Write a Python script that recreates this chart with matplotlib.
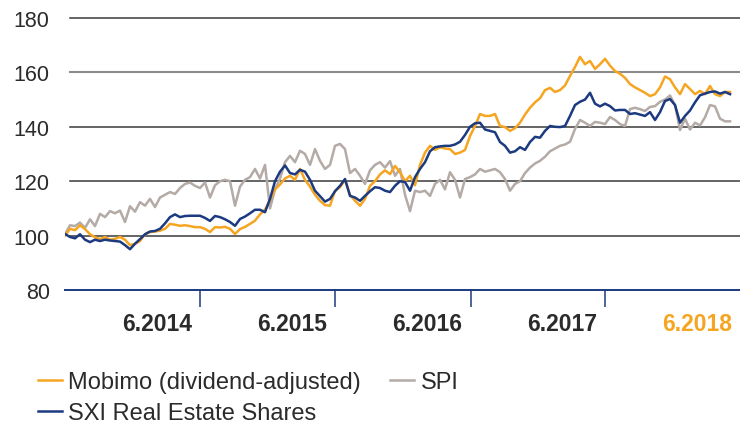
import matplotlib
matplotlib.use('Agg')
import matplotlib.pyplot as plt
from matplotlib.lines import Line2D
import pandas as pd

plt.rcParams['font.family'] = ['Liberation Sans', 'DejaVu Sans']

# ---------------- data ----------------
start_date = '2013-12-31'
end_date = '2018-12-04'

mobimo = [
    100, 102.5, 102, 103.8, 102.4, 100.5, 99.4, 98.7, 99.5, 98.5,
    98.8, 99.5, 98.5, 96.5, 97, 98, 100.5, 101.3, 101.5, 101.8,
    102.5, 104.3, 104, 103.6, 103.8, 103.5, 103.1, 103.1, 102.5, 101.3,
    103.1, 103, 103.2, 102.5, 100.6, 102.4, 103.2, 104.3, 105.5, 107.8,
    109.5, 113, 117, 118.8, 121, 122, 120.5, 124.5, 120.5, 118,
    115, 112.8, 111.2, 111, 116.5, 117.8, 120.5, 115, 112.8, 111,
    113.5, 118.3, 120, 122.5, 124, 122.6, 125.6, 123.3, 120, 122,
    118.5, 126, 130.5, 133, 131.5, 132.5, 132, 131.8, 130, 130.5,
    131.5, 136.6, 140.3, 144.7, 144, 144, 144.7, 140.3, 139.9, 138.5,
    139.5, 141.5, 144.5, 147, 149, 150.5, 153.5, 154.3, 152.8, 153.5,
    155.2, 158.7, 162, 165.7, 163, 164.2, 161.3, 163, 165, 162.5,
    160.5, 159.5, 158, 155.7, 154.5, 153.5, 152.5, 151.3, 152, 154.5,
    158.5, 157.5, 154.5, 152, 155.7, 153.9, 152, 153.2, 152, 155,
    152, 151.3, 152.8, 152.8,
]

sxi = [
    100.6, 99.5, 99, 100.5, 98.5, 97.6, 98.5, 98, 98.5, 98.2,
    98, 97.8, 96.5, 95, 97, 98.7, 100.5, 101.5, 101.7, 102.5,
    104.5, 106.8, 107.8, 106.8, 107.2, 107.3, 107.3, 107.3, 106.5, 105.4,
    107.2, 106.8, 106, 105, 103.6, 106.1, 107, 108.2, 109.5, 109.5,
    108.6, 113.5, 120, 123.5, 125.8, 123, 122.5, 124.2, 123.5, 120.5,
    116.5, 114.5, 112.5, 113.5, 116.3, 118.3, 120.8, 114.6, 114, 112.8,
    114.6, 116.3, 117.8, 117.5, 116.5, 116, 118.3, 120, 119.7, 116.5,
    121.5, 124.5, 127, 131, 132.5, 132.8, 133, 133, 133.5, 134.5,
    137, 140, 141.3, 141.5, 139, 138.5, 138, 134.4, 133, 130.5,
    131, 132.5, 131.5, 134.4, 136.3, 136, 138.5, 140.3, 140, 139.9,
    140.3, 144, 148, 149.2, 150, 152.5, 148.5, 147.5, 148.5, 147.6,
    146, 146.2, 146.2, 144.7, 145, 144.5, 144, 145.4, 142.5, 145.4,
    149.5, 150.2, 148, 141.5, 144, 146, 149, 151.6, 152.2, 152.8,
    153, 152.2, 152.8, 152,
]

spi = [
    100.5, 103.8, 103.5, 104.8, 102.8, 106, 103.5, 108, 106.8, 109,
    108.2, 109.2, 105, 110.8, 108.8, 112.3, 111, 113.5, 110.5, 114,
    115, 116, 115.3, 117.5, 119, 119.5, 118.3, 117.5, 119.5, 114,
    118.5, 120, 120.5, 120, 111, 118, 120.5, 121.5, 124.5, 121,
    126, 110, 117, 121, 127, 129.3, 127, 131.2, 130, 126,
    131.8, 127.5, 124.5, 126, 133, 133.7, 131.8, 123, 124.5, 122,
    119, 124, 126, 127, 125, 127.4, 122, 124.5, 115, 109,
    116.5, 116, 116.5, 114.6, 119, 120.5, 117, 123.3, 120.5, 114,
    120.8, 121.5, 122.5, 124.5, 123.5, 124, 124.5, 123.3, 120.8, 116.5,
    119, 120, 123, 125, 126.5, 127.5, 129, 131, 132, 133,
    133.5, 134.5, 139.2, 142.5, 141.5, 140.3, 141.8, 141.5, 141, 143.6,
    142.5, 141, 140.3, 146.5, 147, 146.5, 145.8, 147.3, 147.6, 149.2,
    150, 151.5, 148, 138.8, 143, 139, 141.5, 140.5, 143.5, 148,
    147.5, 143, 142, 142,
]

series_names = ['Mobimo (dividend-adjusted)', 'SPI', 'SXI Real Estate Shares']
period_labels = ['6.2014', '6.2015', '6.2016', '6.2017', '6.2018']
y_ticks = [80, 100, 120, 140, 160, 180]

# ---------------- styling ----------------
ORANGE = '#F6A521'
NAVY = '#1C3A80'
GREY = '#B4AAA6'
TEXT = '#2b2b2b'

dates = pd.date_range(start_date, end_date, periods=len(mobimo))

fig = plt.figure(figsize=(7.4, 4.27), dpi=100)
ax = fig.add_axes([65 / 740, 136 / 427, 675 / 740, 272 / 427])

ax.set_xlim(pd.Timestamp('2013-12-31'), pd.Timestamp('2018-12-31'))
ax.set_ylim(80, 180)

# horizontal grid lines
for v in y_ticks[1:]:
    col = '#8c8c8c' if v == 160 else '#3a3a3a'
    lw = 1.5 if v == 160 else 1.1
    ax.axhline(v, xmin=5 / 675, xmax=1, color=col, lw=lw, zorder=1, clip_on=False)

ax.plot(dates, spi, color=GREY, lw=1.8, zorder=2, solid_joinstyle='round')
ax.plot(dates, mobimo, color=ORANGE, lw=1.8, zorder=3, solid_joinstyle='round')
ax.plot(dates, sxi, color=NAVY, lw=1.8, zorder=4, solid_joinstyle='round')

for s in ['top', 'right', 'left']:
    ax.spines[s].set_visible(False)
ax.spines['bottom'].set_color(NAVY)
ax.spines['bottom'].set_linewidth(1.4)

ax.set_yticks(y_ticks)
ax.set_yticklabels([str(v) for v in y_ticks], fontsize=15.5, color=TEXT)
ax.tick_params(axis='y', length=0, pad=11)

year_ticks = [pd.Timestamp(f'{int(l.split(".")[1]) + 1}-01-01') for l in period_labels[:-1]]
ax.set_xticks(year_ticks)
ax.set_xticklabels([])
ax.tick_params(axis='x', direction='out', length=12, width=1.1, color=NAVY)

trans = ax.get_xaxis_transform()
for i, lab in enumerate(period_labels):
    yr = int(lab.split('.')[1])
    ax.text(pd.Timestamp(f'{yr}-09-06'), -40 / 272, lab, transform=trans,
            ha='center', va='baseline', fontsize=16.5, fontweight='bold',
            color=ORANGE if i == len(period_labels) - 1 else TEXT)

# legend drawn manually
legend_items = [
    (series_names[0], ORANGE, 38, 68, 381),
    (series_names[1], GREY, 390, 421, 381),
    (series_names[2], NAVY, 38, 68, 412),
]
for name, col, lx, tx, ly in legend_items:
    fig.add_artist(Line2D([lx / 740, (lx + 24) / 740], [1 - ly / 427, 1 - ly / 427],
                          color=col, lw=1.8, transform=fig.transFigure))
    fig.text(tx / 740, 1 - (ly + 8.5) / 427, name, ha='left', va='baseline',
             fontsize=17, color=TEXT)

fig.savefig('out.png', dpi=100)
